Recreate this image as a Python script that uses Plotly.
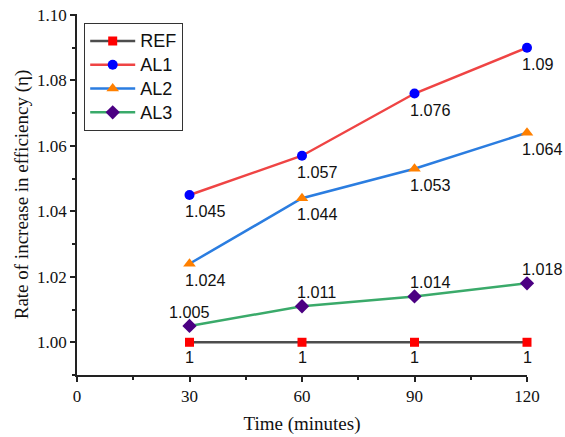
import plotly.graph_objects as go

time_min = [30, 60, 90, 120]
ref = [1.0, 1.0, 1.0, 1.0]
al1 = [1.045, 1.057, 1.076, 1.09]
al2 = [1.024, 1.044, 1.053, 1.064]
al3 = [1.005, 1.011, 1.014, 1.018]

x_ticks = [0, 30, 60, 90, 120]
y_ticks = [1.00, 1.02, 1.04, 1.06, 1.08, 1.10]

SANS = "Arial, Liberation Sans, sans-serif"
SERIF = "Times New Roman, Liberation Serif, serif"

series = [
    dict(name="REF", y=ref, line="#4d4d4d", mcolor="#ff0000", symbol="square", msize=9,
         pos="below_center"),
    dict(name="AL1", y=al1, line="#ef4444", mcolor="#0000ff", symbol="circle", msize=10,
         pos="below"),
    dict(name="AL2", y=al2, line="#2b7de0", mcolor="#ff8000", symbol="triangle-up", msize=11,
         pos="below"),
    dict(name="AL3", y=al3, line="#3aaa6a", mcolor="#4b0082", symbol="diamond", msize=11,
         pos="above"),
]

fig = go.Figure()
for i, s in enumerate(series):
    fig.add_trace(go.Scatter(
        x=time_min, y=s["y"], name=f"<span style='font-size:18px'>{s['name']}</span>",
        mode="lines+markers",
        line=dict(color=s["line"], width=2.5),
        marker=dict(color=s["mcolor"], symbol=s["symbol"], size=s["msize"]),
        cliponaxis=False,
    ))
    for j, (xv, yv) in enumerate(zip(time_min, s["y"])):
        txt = f"{yv:g}"
        if s["pos"] == "above":
            if j == 0:
                xa, xs = "center", 0
            else:
                xa, xs = "left", -7
            ys = 14
        elif s["pos"] == "below_center":
            xa, xs, ys = "center", 0, -15
        else:
            xa, xs, ys = "left", -7, -16
        fig.add_annotation(x=xv, y=yv, text=txt, showarrow=False,
                           xanchor=xa, yanchor="middle", xshift=xs, yshift=ys,
                           font=dict(family=SANS, size=16.2, color="#111"))

axis_common = dict(
    showline=True, linecolor="#222", linewidth=1.5, mirror=False,
    ticks="outside", ticklen=5, tickwidth=1.5, tickcolor="#222",
    showgrid=False, zeroline=False, automargin=False,
    ticklabeloverflow="allow",
    tickfont=dict(family=SERIF, size=17, color="#111"),
)

fig.update_xaxes(
    range=[0, 120], tickvals=x_ticks, ticktext=[str(v) for v in x_ticks],
    title=dict(text="Time (minutes)", font=dict(family=SERIF, size=19, color="#111"), standoff=12),
    minor=dict(ticks="outside", ticklen=3, tickwidth=1.5, tickcolor="#222", dtick=15, tick0=0),
    **axis_common,
)
fig.update_yaxes(
    range=[0.99, 1.1003], tickvals=y_ticks, ticktext=[f"{v:.2f}" for v in y_ticks],
    title=dict(text="Rate of increase in efficiency (η)", font=dict(family=SERIF, size=19, color="#111"), standoff=3),
    minor=dict(ticks="outside", ticklen=3, tickwidth=1.5, tickcolor="#222", dtick=0.01, tick0=0.99),
    **axis_common,
)

fig.update_layout(
    width=565, height=437,
    margin=dict(l=77, r=38, t=14, b=62),
    plot_bgcolor="white", paper_bgcolor="white",
    legend=dict(x=0.016, y=0.975, xanchor="left", yanchor="top",
                bgcolor="white", bordercolor="#333", borderwidth=1,
                itemwidth=45,
                font=dict(family=SANS, size=16, color="#111")),
    showlegend=True,
)

fig.write_html("out.html", config={"displayModeBar": False},
               post_script="document.body.style.margin='0';document.body.style.overflow='hidden';")
